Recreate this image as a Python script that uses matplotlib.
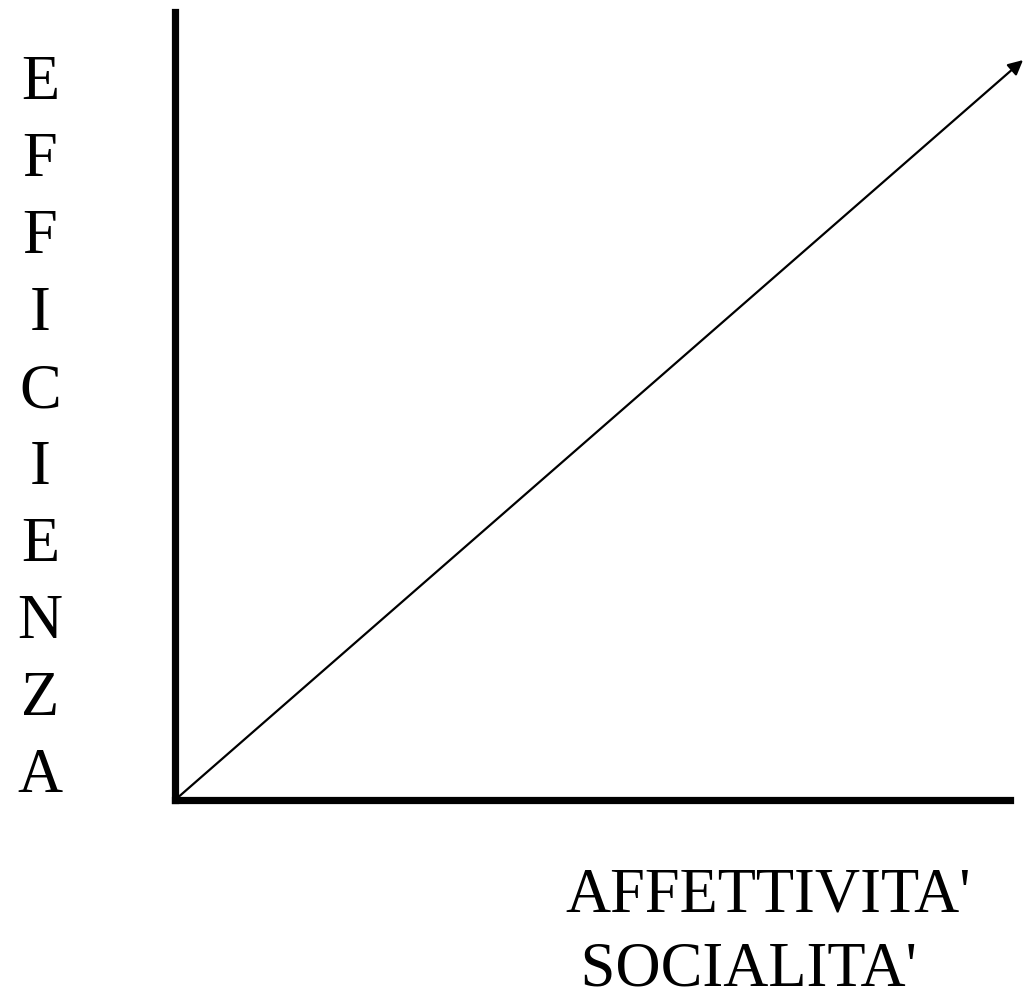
import matplotlib.pyplot as plt

W, H = 1023, 991

y_letters = list("EFFICIENZA")
x_lines = ["AFFETTIVITA'", " SOCIALITA'"]
arrow_start = (0.0, 0.0)
arrow_end = (1.0156, 0.939)

fig = plt.figure(figsize=(W / 100, H / 100), dpi=100)
ax = fig.add_axes([175 / W, 191 / H, 835 / W, 788 / H])
ax.set_xlim(0, 1)
ax.set_ylim(0, 1)
for s in ["top", "right"]:
    ax.spines[s].set_visible(False)
for s in ["left", "bottom"]:
    ax.spines[s].set_linewidth(5.2)
    ax.spines[s].set_color("black")
ax.set_xticks([])
ax.set_yticks([])

ax.annotate(
    "",
    xy=arrow_end,
    xytext=arrow_start,
    arrowprops=dict(arrowstyle="-|>", color="black", lw=1.6,
                    mutation_scale=22, shrinkA=0, shrinkB=0),
    annotation_clip=False,
)

font = dict(family="Liberation Serif", fontsize=45, color="black")

# vertical label, one letter per row
for i, ch in enumerate(y_letters):
    fig.text(40 / W, 1 - (99 + 77 * i) / H, ch, ha="center", va="baseline", **font)

# horizontal label, two lines
for i, line in enumerate(x_lines):
    fig.text(565 / W, 1 - (911 + 75 * i) / H, line, ha="left", va="baseline", **font)

fig.savefig("out.png", dpi=100)
